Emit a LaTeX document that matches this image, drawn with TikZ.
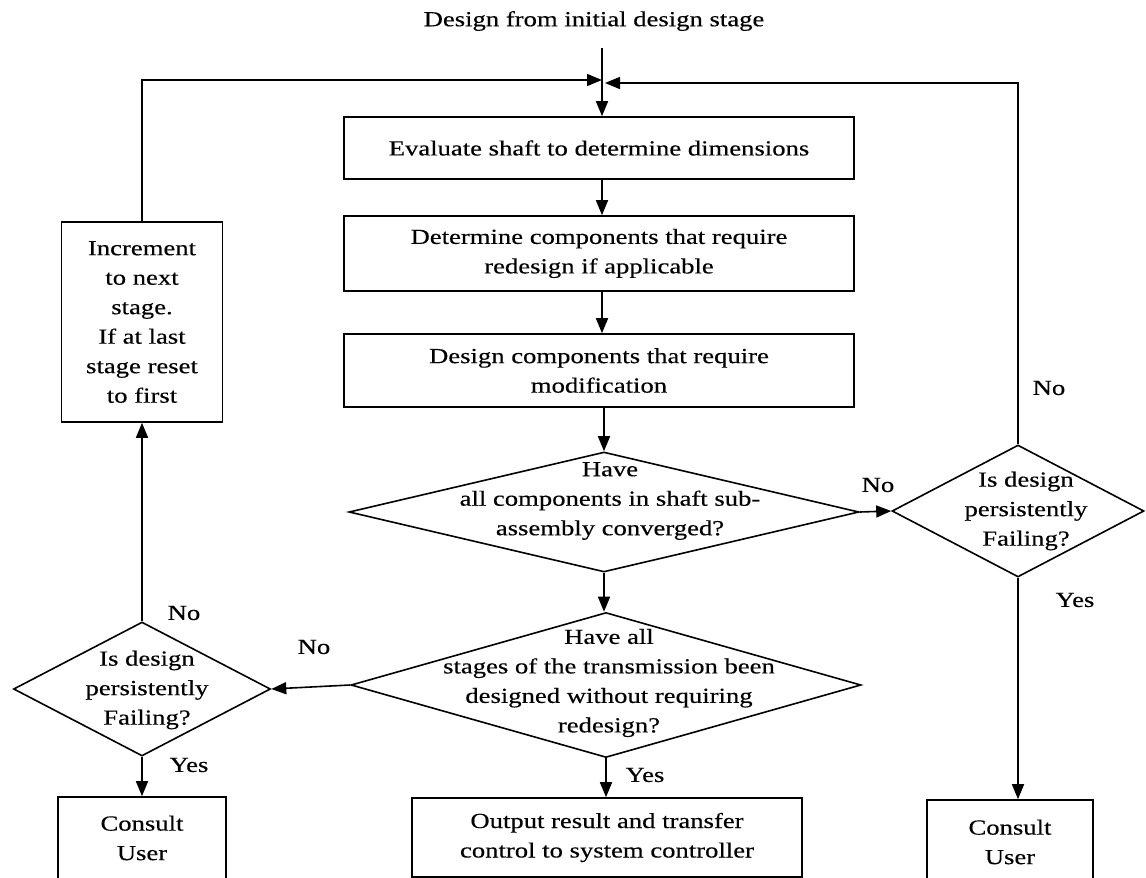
\documentclass[tikz,border=0pt]{standalone}
\usepackage{fontspec}
\setmainfont[FakeStretch=1.24,FakeBold=0.3]{Liberation Serif}
\usetikzlibrary{shapes.geometric,arrows.meta}
\begin{document}
\begin{tikzpicture}[x=1pt,y=-1pt,
  line width=1.6pt,
  every node/.style={font=\fontsize{21.5}{29.5}\selectfont, inner sep=0pt},
  proc/.style={draw, rectangle, align=center},
  dia/.style={draw, diamond, inner sep=0pt},
  txt/.style={align=center},
  arr/.style={-{Triangle[length=15pt,width=12pt]}},
]
\useasboundingbox (0,0) rectangle (1146,878);
\clip (0,0) rectangle (1146,878);

% entry point and loop-back junction
\node[txt] (start) at (594,21) {Design from initial design stage};
\coordinate (top) at (602,48);
\coordinate (jl) at (602,80);
\coordinate (jr) at (605,83);

% main column of process boxes
\node[proc, minimum width=510, minimum height=62] (b1) at (599,148) {Evaluate shaft to determine dimensions};
\node[proc, minimum width=510, minimum height=75] (b2) at (599,253.5) {Determine components that require\\redesign if applicable};
\node[proc, minimum width=510, minimum height=73] (b3) at (599,370.5) {Design components that require\\modification};

% decisions
\node[dia, minimum width=510, minimum height=120] (d1) at (604,512) {};
\node[txt] (d1t) at (610,501) {Have\\all components in shaft sub-\\assembly converged?};
\node[dia, minimum width=252, minimum height=132] (d2) at (1018,511) {};
\node[txt] (d2t) at (1026,511) {Is design\\persistently\\Failing?};
\node[dia, minimum width=510, minimum height=145] (d3) at (606,685) {};
\node[txt] (d3t) at (609,683) {Have all\\stages of the transmission been\\designed without requiring\\redesign?};
\node[dia, minimum width=257, minimum height=134] (d4) at (142,689) {};
\node[txt] (d4t) at (147,690) {Is design\\persistently\\Failing?};

% stage increment box
\node[proc, minimum width=161, minimum height=200] (inc) at (142,322) {Increment\\to next\\stage.\\If at last\\stage reset\\to first};

% terminal boxes
\node[proc, minimum width=168, minimum height=100] (c1) at (142,847) {};
\node[txt] (c1t) at (142,838) {Consult\\User};
\node[proc, minimum width=390, minimum height=79] (out) at (607,837.5) {Output result and transfer\\control to system controller};
\node[proc, minimum width=166, minimum height=100] (c2) at (1010,850) {};
\node[txt] (c2t) at (1010,842) {Consult\\User};

% branch labels
\node (l1) at (878,485) {No};
\node (l2) at (1049,388) {No};
\node (l3) at (1075,600) {Yes};
\node (l4) at (314,647) {No};
\node (l5) at (184,613) {No};
\node (l6) at (189,765) {Yes};
\node (l7) at (645,775) {Yes};

% connectors
\draw[arr] (top) -- (b1.north -| top);
\draw[arr] (inc.north) |- (jl);
\draw[arr] (d2.north) |- (jr);
\draw[arr] (b1.south -| top) -- (b2.north -| top);
\draw[arr] (b2.south -| top) -- (b3.north -| top);
\draw[arr] (b3.south -| d1.north) -- (d1.north);
\draw[arr] (d1.east) -- (d2.west);
\draw[arr] (d1.south) -- (d1.south |- d3.north);
\draw[arr] (d3.west) -- (d4.east);
\draw[arr] (d4.north) -- (inc.south);
\draw[arr] (d4.south) -- (c1.north);
\draw[arr] (d3.south) -- (d3.south |- out.north);
\draw[arr] (d2.south) -- (d2.south |- c2.north);
\end{tikzpicture}
\end{document}
